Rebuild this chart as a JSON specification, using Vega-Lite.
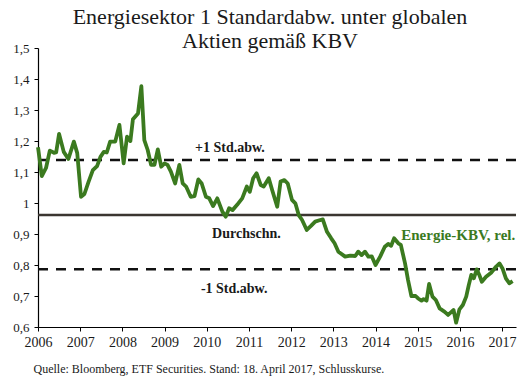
{
  "$schema": "https://vega.github.io/schema/vega-lite/v6.json",
  "autosize": "none",
  "width": 478,
  "height": 279,
  "padding": {"left": 38, "top": 48, "right": 10, "bottom": 51},
  "background": "white",
  "config": {"view": {"stroke": null}, "font": "Liberation Serif"},
  "title": {
    "text": ["Energiesektor 1 Standardabw. unter globalen", "Aktien gemäß KBV"],
    "font": "Liberation Serif",
    "fontSize": 22,
    "fontWeight": "normal",
    "color": "#1a1a1a",
    "lineHeight": 24,
    "anchor": "middle",
    "dx": -7,
    "offset": -11
  },
  "datasets": {
    "series": [
      {"t": 2006.00, "v": 1.180}, {"t": 2006.09, "v": 1.087}, {"t": 2006.19, "v": 1.113},
      {"t": 2006.28, "v": 1.169}, {"t": 2006.38, "v": 1.162}, {"t": 2006.43, "v": 1.163},
      {"t": 2006.50, "v": 1.223}, {"t": 2006.61, "v": 1.165}, {"t": 2006.72, "v": 1.142},
      {"t": 2006.85, "v": 1.198}, {"t": 2006.93, "v": 1.161}, {"t": 2007.02, "v": 1.020},
      {"t": 2007.10, "v": 1.029}, {"t": 2007.20, "v": 1.069}, {"t": 2007.30, "v": 1.106},
      {"t": 2007.40, "v": 1.119}, {"t": 2007.48, "v": 1.149}, {"t": 2007.56, "v": 1.165},
      {"t": 2007.63, "v": 1.163}, {"t": 2007.71, "v": 1.198}, {"t": 2007.83, "v": 1.198},
      {"t": 2007.93, "v": 1.252}, {"t": 2008.03, "v": 1.128}, {"t": 2008.11, "v": 1.214},
      {"t": 2008.19, "v": 1.200}, {"t": 2008.25, "v": 1.270}, {"t": 2008.37, "v": 1.289},
      {"t": 2008.45, "v": 1.377}, {"t": 2008.52, "v": 1.203}, {"t": 2008.60, "v": 1.171},
      {"t": 2008.68, "v": 1.123}, {"t": 2008.76, "v": 1.123}, {"t": 2008.84, "v": 1.173},
      {"t": 2008.92, "v": 1.117}, {"t": 2009.00, "v": 1.128}, {"t": 2009.07, "v": 1.123},
      {"t": 2009.15, "v": 1.101}, {"t": 2009.25, "v": 1.063}, {"t": 2009.35, "v": 1.123},
      {"t": 2009.43, "v": 1.063}, {"t": 2009.51, "v": 1.053}, {"t": 2009.62, "v": 1.020},
      {"t": 2009.71, "v": 1.022}, {"t": 2009.80, "v": 1.076}, {"t": 2009.88, "v": 1.063},
      {"t": 2009.98, "v": 1.020}, {"t": 2010.06, "v": 1.015}, {"t": 2010.15, "v": 0.990},
      {"t": 2010.25, "v": 1.015}, {"t": 2010.37, "v": 0.972}, {"t": 2010.45, "v": 0.956},
      {"t": 2010.53, "v": 0.983}, {"t": 2010.61, "v": 0.977}, {"t": 2010.72, "v": 0.994},
      {"t": 2010.84, "v": 1.015}, {"t": 2010.95, "v": 1.053}, {"t": 2011.02, "v": 1.036},
      {"t": 2011.10, "v": 1.080}, {"t": 2011.18, "v": 1.096}, {"t": 2011.28, "v": 1.058},
      {"t": 2011.35, "v": 1.053}, {"t": 2011.47, "v": 1.080}, {"t": 2011.55, "v": 1.042},
      {"t": 2011.67, "v": 0.988}, {"t": 2011.75, "v": 1.069}, {"t": 2011.84, "v": 1.074},
      {"t": 2011.92, "v": 1.063}, {"t": 2012.02, "v": 1.010}, {"t": 2012.10, "v": 0.999},
      {"t": 2012.18, "v": 0.961}, {"t": 2012.26, "v": 0.945}, {"t": 2012.37, "v": 0.913},
      {"t": 2012.47, "v": 0.926}, {"t": 2012.57, "v": 0.940}, {"t": 2012.69, "v": 0.945},
      {"t": 2012.75, "v": 0.947}, {"t": 2012.85, "v": 0.907}, {"t": 2012.95, "v": 0.886},
      {"t": 2013.03, "v": 0.870}, {"t": 2013.12, "v": 0.843}, {"t": 2013.28, "v": 0.827},
      {"t": 2013.40, "v": 0.830}, {"t": 2013.52, "v": 0.829}, {"t": 2013.59, "v": 0.843},
      {"t": 2013.67, "v": 0.832}, {"t": 2013.75, "v": 0.843}, {"t": 2013.83, "v": 0.827},
      {"t": 2013.91, "v": 0.828}, {"t": 2014.00, "v": 0.800}, {"t": 2014.11, "v": 0.827},
      {"t": 2014.22, "v": 0.859}, {"t": 2014.30, "v": 0.868}, {"t": 2014.37, "v": 0.862},
      {"t": 2014.44, "v": 0.886}, {"t": 2014.54, "v": 0.870}, {"t": 2014.60, "v": 0.865},
      {"t": 2014.70, "v": 0.805}, {"t": 2014.77, "v": 0.752}, {"t": 2014.85, "v": 0.700},
      {"t": 2014.95, "v": 0.700}, {"t": 2015.01, "v": 0.692}, {"t": 2015.09, "v": 0.685},
      {"t": 2015.14, "v": 0.690}, {"t": 2015.21, "v": 0.685}, {"t": 2015.27, "v": 0.739},
      {"t": 2015.35, "v": 0.698}, {"t": 2015.43, "v": 0.687}, {"t": 2015.52, "v": 0.660},
      {"t": 2015.64, "v": 0.649}, {"t": 2015.72, "v": 0.639}, {"t": 2015.80, "v": 0.649},
      {"t": 2015.85, "v": 0.655}, {"t": 2015.91, "v": 0.614}, {"t": 2015.99, "v": 0.657},
      {"t": 2016.07, "v": 0.671}, {"t": 2016.15, "v": 0.698}, {"t": 2016.21, "v": 0.735},
      {"t": 2016.27, "v": 0.768}, {"t": 2016.33, "v": 0.757}, {"t": 2016.40, "v": 0.786},
      {"t": 2016.46, "v": 0.768}, {"t": 2016.52, "v": 0.746}, {"t": 2016.62, "v": 0.762},
      {"t": 2016.74, "v": 0.775}, {"t": 2016.86, "v": 0.795}, {"t": 2016.94, "v": 0.805},
      {"t": 2017.01, "v": 0.789}, {"t": 2017.09, "v": 0.757}, {"t": 2017.17, "v": 0.741},
      {"t": 2017.25, "v": 0.748}
    ],
    "dashedLevels": [
      {"name": "plus", "v": 1.139},
      {"name": "minus", "v": 0.786}
    ],
    "meanLevel": [
      {"name": "mean", "v": 0.961}
    ],
    "labels": [
      {"label": "+1 Std.abw.", "t": 2010.55, "v": 1.177},
      {"label": "Durchschn.", "t": 2010.94, "v": 0.900},
      {"label": "-1 Std.abw.", "t": 2010.65, "v": 0.722}
    ]
  },
  "encoding": {
    "y": {
      "field": "v", "type": "quantitative",
      "scale": {"domain": [0.6, 1.5], "nice": false, "zero": false},
      "axis": {
        "values": [0.6, 0.7, 0.8, 0.9, 1.0, 1.1, 1.2, 1.3, 1.4, 1.5],
        "labelExpr": "replace(format(datum.value, '.1~f'), '.', ',')",
        "labelOverlap": false,
        "grid": false,
        "domainColor": "#000000",
        "domainWidth": 1.2,
        "tickColor": "#000000",
        "tickSize": 4,
        "labelFont": "Liberation Serif",
        "labelFontSize": 13,
        "labelColor": "#1a1a1a",
        "labelPadding": 5,
        "title": null
      }
    }
  },
  "layer": [
    {
      "data": {"name": "dashedLevels"},
      "mark": {"type": "rule", "strokeWidth": 2.5, "color": "#111111", "strokeDash": [10, 8]},
      "encoding": {}
    },
    {
      "data": {"name": "meanLevel"},
      "mark": {"type": "rule", "strokeWidth": 2.5, "color": "#3b3631"},
      "encoding": {}
    },
    {
      "data": {"name": "series"},
      "mark": {"type": "line", "color": "#3b7a1f", "strokeWidth": 3.8, "strokeJoin": "round"},
      "encoding": {
        "x": {
          "field": "t", "type": "quantitative",
          "scale": {"domain": [2006, 2017.33], "nice": false, "zero": false},
          "axis": {
            "values": [2006, 2007, 2008, 2009, 2010, 2011, 2012, 2013, 2014, 2015, 2016, 2017],
            "format": "d",
            "labelOverlap": false,
            "grid": false,
            "domainColor": "#000000",
            "domainWidth": 1.2,
            "tickColor": "#000000",
            "tickSize": 4,
            "labelFont": "Liberation Serif",
            "labelFontSize": 14,
            "labelColor": "#1a1a1a",
            "labelPadding": 4,
            "labelFlush": false,
            "title": "Quelle: Bloomberg, ETF Securities. Stand: 18. April 2017, Schlusskurse.",
            "titleFont": "Liberation Serif",
            "titleFontSize": 12,
            "titleFontWeight": "normal",
            "titleColor": "#1a1a1a",
            "titleAnchor": "start",
            "titleAlign": "left",
            "titleBaseline": "alphabetic",
            "titleX": -5,
            "titleY": 45
          }
        }
      }
    },
    {
      "data": {"name": "labels"},
      "mark": {"type": "text", "font": "Liberation Serif", "fontSize": 14, "fontWeight": "bold", "color": "#1a1a1a", "align": "center", "baseline": "middle"},
      "encoding": {
        "x": {"field": "t", "type": "quantitative"},
        "text": {"field": "label"}
      }
    },
    {
      "data": {"values": [{"label": "Energie-KBV, rel.", "t": 2014.61, "v": 0.897}]},
      "mark": {"type": "text", "font": "Liberation Serif", "fontSize": 15, "fontWeight": "bold", "color": "#3b7a1f", "align": "left", "baseline": "middle"},
      "encoding": {
        "x": {"field": "t", "type": "quantitative"},
        "text": {"field": "label"}
      }
    }
  ]
}
